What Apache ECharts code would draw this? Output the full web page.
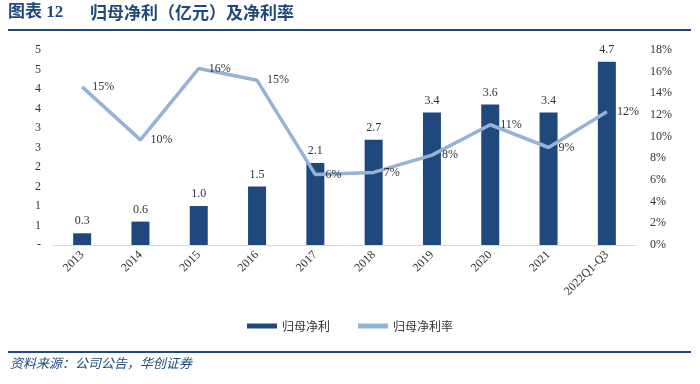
<!DOCTYPE html>
<html><head><meta charset="utf-8">
<script src="https://cdn.jsdelivr.net/npm/echarts@6/dist/echarts.min.js"></script>
<style>html,body{margin:0;padding:0;background:#fff}#c{width:700px;height:384px}</style>
</head><body><div id="c"></div>
<script>
const categories = ['2013','2014','2015','2016','2017','2018','2019','2020','2021','2022Q1-Q3'];
const netProfit = [0.3, 0.6, 1.0, 1.5, 2.1, 2.7, 3.4, 3.6, 3.4, 4.7];
const netMargin = [14.6, 9.7, 16.3, 15.2, 6.5, 6.7, 8.3, 11.1, 9.0, 12.3];
const marginLabels = ['15%','10%','16%','15%','6%','7%','8%','11%','9%','12%'];
const leftTicks = {min: 0, max: 5, interval: 0.5};
const rightTicks = {min: 0, max: 18, interval: 2};

const serif = "'Liberation Serif','Times New Roman',serif";
const cjk = "'Noto Sans CJK SC',sans-serif";
const chart = echarts.init(document.getElementById('c'));
chart.setOption({
  animation: false,
  backgroundColor: '#fff',
  grid: {left: 53, right: 64, top: 50, bottom: 139},
  graphic: [
    {type: 'text', left: 8, top: 4, style: {text: '图表 12', font: "bold 17px " + serif + "," + cjk, fill: '#1F497D'}},
    {type: 'text', left: 90, top: 4, style: {text: '归母净利（亿元）及净利率', font: "bold 17px " + cjk, fill: '#1F497D'}},
    {type: 'rect', shape: {x: 8, y: 29, width: 683, height: 2}, style: {fill: '#1F497D'}},
    {type: 'rect', shape: {x: 8, y: 351, width: 683, height: 2}, style: {fill: '#1F497D'}},
    {type: 'text', left: 10, top: 357, style: {text: '资料来源：公司公告，华创证券', font: "italic 13px " + cjk, fill: '#1F497D'}}
  ],
  legend: {
    bottom: 47, left: 'center', itemGap: 28, itemWidth: 30, itemHeight: 5,
    textStyle: {fontFamily: cjk, fontSize: 12, color: '#333'},
    data: [{name: '归母净利', icon: 'rect'}, {name: '归母净利率', icon: 'rect'}]
  },
  xAxis: {
    type: 'category', data: categories,
    axisLine: {lineStyle: {color: '#D9D9D9', width: 1}},
    axisTick: {show: false},
    axisLabel: {rotate: 45, interval: 0, fontFamily: serif, fontSize: 12, color: '#333', margin: 8}
  },
  yAxis: [
    {type: 'value', min: leftTicks.min, max: leftTicks.max, interval: leftTicks.interval,
     splitLine: {show: false}, axisLine: {show: false}, axisTick: {show: false},
     axisLabel: {fontFamily: serif, fontSize: 12, color: '#333', margin: 12,
       formatter: v => v === 0 ? '-' : String(Math.round(v))}},
    {type: 'value', min: rightTicks.min, max: rightTicks.max, interval: rightTicks.interval,
     splitLine: {show: false}, axisLine: {show: false}, axisTick: {show: false},
     axisLabel: {fontFamily: serif, fontSize: 12, color: '#333', margin: 14, formatter: v => v + '%'}}
  ],
  series: [
    {name: '归母净利', type: 'bar', data: netProfit, barWidth: 18, itemStyle: {color: '#1F497D'},
     label: {show: true, position: 'top', distance: 6, fontFamily: serif, fontSize: 12, color: '#333',
       formatter: p => p.value.toFixed(1)}},
    {name: '归母净利率', type: 'line', yAxisIndex: 1, data: netMargin, symbol: 'circle', symbolSize: 0.1,
     showSymbol: true,
     lineStyle: {color: '#95B3D7', width: 3.5}, itemStyle: {color: '#95B3D7'},
     label: {show: true, position: 'right', distance: 10, fontFamily: serif, fontSize: 12, color: '#333',
       formatter: p => marginLabels[p.dataIndex]}}
  ]
});
</script></body></html>
